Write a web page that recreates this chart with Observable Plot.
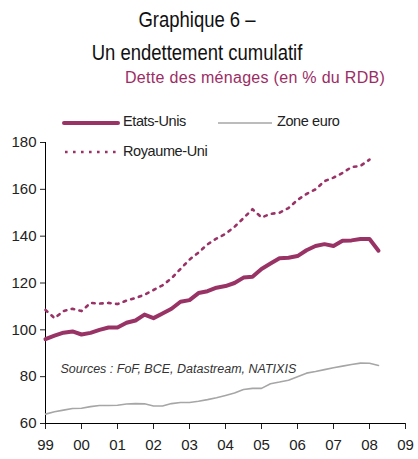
<!DOCTYPE html>
<html>
<head>
<meta charset="utf-8">
<script src="https://cdn.jsdelivr.net/npm/d3@7"></script>
<script src="https://cdn.jsdelivr.net/npm/@observablehq/plot@0.6"></script>
<style>
  html, body { margin: 0; padding: 0; background: #fff; }
  #wrap { position: relative; width: 418px; height: 459px; overflow: hidden; font-family: "Liberation Sans", Arial, sans-serif; }
  #title { position: absolute; left: 0; top: 0; width: 394px; text-align: center; font-family: "Liberation Sans", Arial, sans-serif; font-size: 22px; line-height: 33px; color: #111; transform: scaleX(0.84); transform-origin: 197px 0; }
  #title .l1 { position: absolute; left: 0; top: 3px; width: 394px; }
  #title .l2 { position: absolute; left: 0; top: 36px; width: 394px; }
  #subtitle { position: absolute; left: 125px; top: 69px; font-size: 16px; color: #9b2d64; letter-spacing: 0.3px; white-space: nowrap; }
  #chart { position: absolute; left: 0; top: 90px; }
  .leg { position: absolute; font-size: 14.5px; color: #222; letter-spacing: -0.4px; white-space: nowrap; }
  .sw { position: absolute; }
</style>
</head>
<body>
<div id="wrap">
  <div id="title"><div class="l1">Graphique 6 –</div><div class="l2">Un endettement cumulatif</div></div>
  <div id="subtitle">Dette des ménages (en % du RDB)</div>
  <div id="chart"></div>
  <svg class="sw" style="left:62px;top:118px" width="58" height="10"><line x1="2" y1="5" x2="56" y2="5" stroke="#993366" stroke-width="4" stroke-linecap="round"/></svg>
  <div class="leg" style="left:123px;top:113px">Etats-Unis</div>
  <svg class="sw" style="left:217px;top:118px" width="58" height="10"><line x1="1" y1="5" x2="55" y2="5" stroke="#a6a6a6" stroke-width="1.6"/></svg>
  <div class="leg" style="left:277px;top:113px">Zone euro</div>
  <svg class="sw" style="left:62px;top:147px" width="58" height="10"><line x1="3" y1="5" x2="56" y2="5" stroke="#993366" stroke-width="2.6" stroke-dasharray="2.6,5.4"/></svg>
  <div class="leg" style="left:123px;top:143px">Royaume-Uni</div>
</div>
<script>
// Quarterly observations, 1999 Q1 onwards
const start = 1999;
const etatsUnis = [96, 97.5, 98.8, 99.3, 98, 98.7, 100, 101, 101, 103, 104, 106.5, 105, 107, 109, 112,
  112.7, 115.7, 116.5, 118, 118.7, 120, 122.3, 122.7, 126, 128.3, 130.6, 130.8, 131.5, 134, 135.8, 136.6,
  135.8, 138, 138.2, 138.8, 138.8, 133.8];
const zoneEuro = [64, 65, 65.7, 66.4, 66.5, 67.2, 67.7, 67.7, 67.8, 68.3, 68.5, 68.4, 67.5, 67.5, 68.5, 69,
  69, 69.5, 70.2, 71, 72, 73, 74.5, 75, 75, 77, 77.7, 78.5, 80, 81.5, 82.2, 83,
  83.8, 84.5, 85.2, 85.8, 85.7, 84.8];
const royaumeUni = [108.5, 105, 108, 109, 108, 111.5, 111.2, 111.5, 111, 112.5, 113.6, 115, 117, 119, 122, 126,
  130, 133, 136.5, 139, 141, 144, 147.7, 151.5, 148, 149.5, 150, 152, 155.5, 158, 160, 163.5,
  165, 167, 169.5, 170, 172.7];
const yTicks = [60, 80, 100, 120, 140, 160, 180];
const xTicks = [1999, 2000, 2001, 2002, 2003, 2004, 2005, 2006, 2007, 2008, 2009];
const xLabels = ["99", "00", "01", "02", "03", "04", "05", "06", "07", "08", "09"];
const source = "Sources : FoF, BCE, Datastream, NATIXIS";

const toRows = (arr) => arr.map((v, i) => ({t: start + i / 4, v}));
const magenta = "#993366";

const chart = Plot.plot({
  width: 418,
  height: 369,
  marginTop: 52,
  marginBottom: 36,
  marginLeft: 45,
  marginRight: 13,
  style: {fontFamily: "'Liberation Sans', Arial, sans-serif", fontSize: "15px", color: "#222", background: "#fff"},
  x: {domain: [1999, 2009]},
  y: {domain: [60, 180]},
  marks: [
    Plot.axisY({ticks: yTicks, tickSize: 5, tickPadding: 4, label: null, fontSize: 15}),
    Plot.axisX({ticks: xTicks, tickSize: 6, tickPadding: 10, label: null, fontSize: 15,
      tickFormat: (d) => xLabels[xTicks.indexOf(d)]}),
    Plot.ruleX([1999], {stroke: "#000", strokeWidth: 1}),
    Plot.ruleY([60], {stroke: "#000", strokeWidth: 1}),
    Plot.line(toRows(zoneEuro), {x: "t", y: "v", stroke: "#a6a6a6", strokeWidth: 1.6}),
    Plot.line(toRows(royaumeUni), {x: "t", y: "v", stroke: magenta, strokeWidth: 2.6, strokeDasharray: "2.6,5.4"}),
    Plot.line(toRows(etatsUnis), {x: "t", y: "v", stroke: magenta, strokeWidth: 4, strokeLinejoin: "round"}),
    Plot.text([source], {frameAnchor: "bottom-left", textAnchor: "start", lineAnchor: "bottom", dx: 15, dy: -51,
      fontStyle: "italic", fontSize: 12.5, fill: "#333", style: "letter-spacing:-0.75px"})
  ]
});
document.getElementById("chart").appendChild(chart);
</script>
</body>
</html>
